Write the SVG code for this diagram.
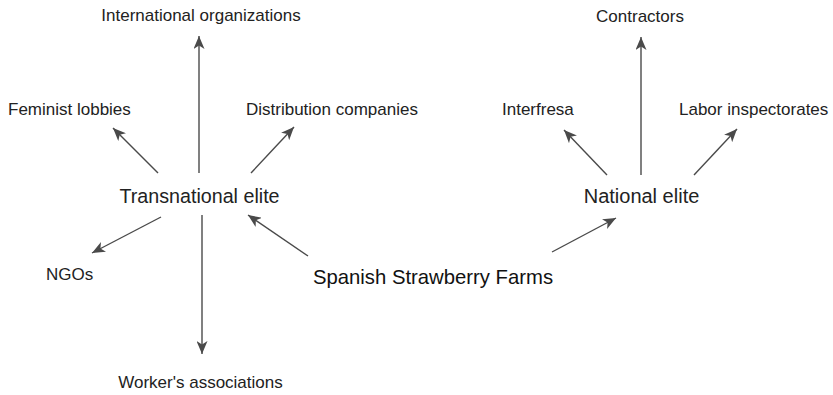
<svg xmlns="http://www.w3.org/2000/svg" width="833" height="395" viewBox="0 0 833 395">
<style>
text { font-family: "Liberation Sans", Arial, Helvetica, sans-serif; fill: #222; }
.s { font-size: 17px; }
.b { font-size: 20px; }
.c line { stroke: #4a4a4a; stroke-width: 1.4; fill: none; marker-end: url(#ah); }
</style>
<defs>
<marker id="ah" markerUnits="userSpaceOnUse" markerWidth="14" markerHeight="11" refX="13" refY="5.5" orient="auto">
<path d="M0,0 L13,5.5 L0,11 L3.5,5.5 Z" fill="#4a4a4a"/>
</marker>
</defs>
<rect width="833" height="395" fill="#fff"/>
<g id="connectors" class="c">
<line x1="199" y1="173" x2="199" y2="36"/>
<line x1="158" y1="173" x2="113" y2="128"/>
<line x1="251" y1="173" x2="294" y2="127"/>
<line x1="161" y1="217" x2="92" y2="253"/>
<line x1="202" y1="215" x2="202" y2="354"/>
<line x1="308" y1="256" x2="248" y2="215"/>
<line x1="552" y1="252" x2="616" y2="218"/>
<line x1="641" y1="175" x2="641" y2="37"/>
<line x1="607" y1="175" x2="564" y2="130"/>
<line x1="694" y1="175" x2="737" y2="129"/>
</g>
<g id="intl"><text class="s" x="201" y="21" text-anchor="middle">International organizations</text></g>
<g id="feminist"><text class="s" x="8" y="115">Feminist lobbies</text></g>
<g id="distribution"><text class="s" x="246" y="115">Distribution companies</text></g>
<g id="transnational"><text class="b" x="199.5" y="203" text-anchor="middle" style="font-size:19.7px">Transnational elite</text></g>
<g id="ngos"><text class="s" x="46" y="280">NGOs</text></g>
<g id="workers"><text class="s" x="200.5" y="388" text-anchor="middle">Worker's associations</text></g>
<g id="spanish"><text class="b" x="433" y="284" text-anchor="middle" style="font-size:20.3px;fill:#111">Spanish Strawberry Farms</text></g>
<g id="national"><text class="b" x="641.5" y="203" text-anchor="middle">National elite</text></g>
<g id="contractors"><text class="s" x="640" y="22" text-anchor="middle">Contractors</text></g>
<g id="interfresa"><text class="s" x="502" y="115">Interfresa</text></g>
<g id="labor"><text class="s" x="679" y="115">Labor inspectorates</text></g>
</svg>
